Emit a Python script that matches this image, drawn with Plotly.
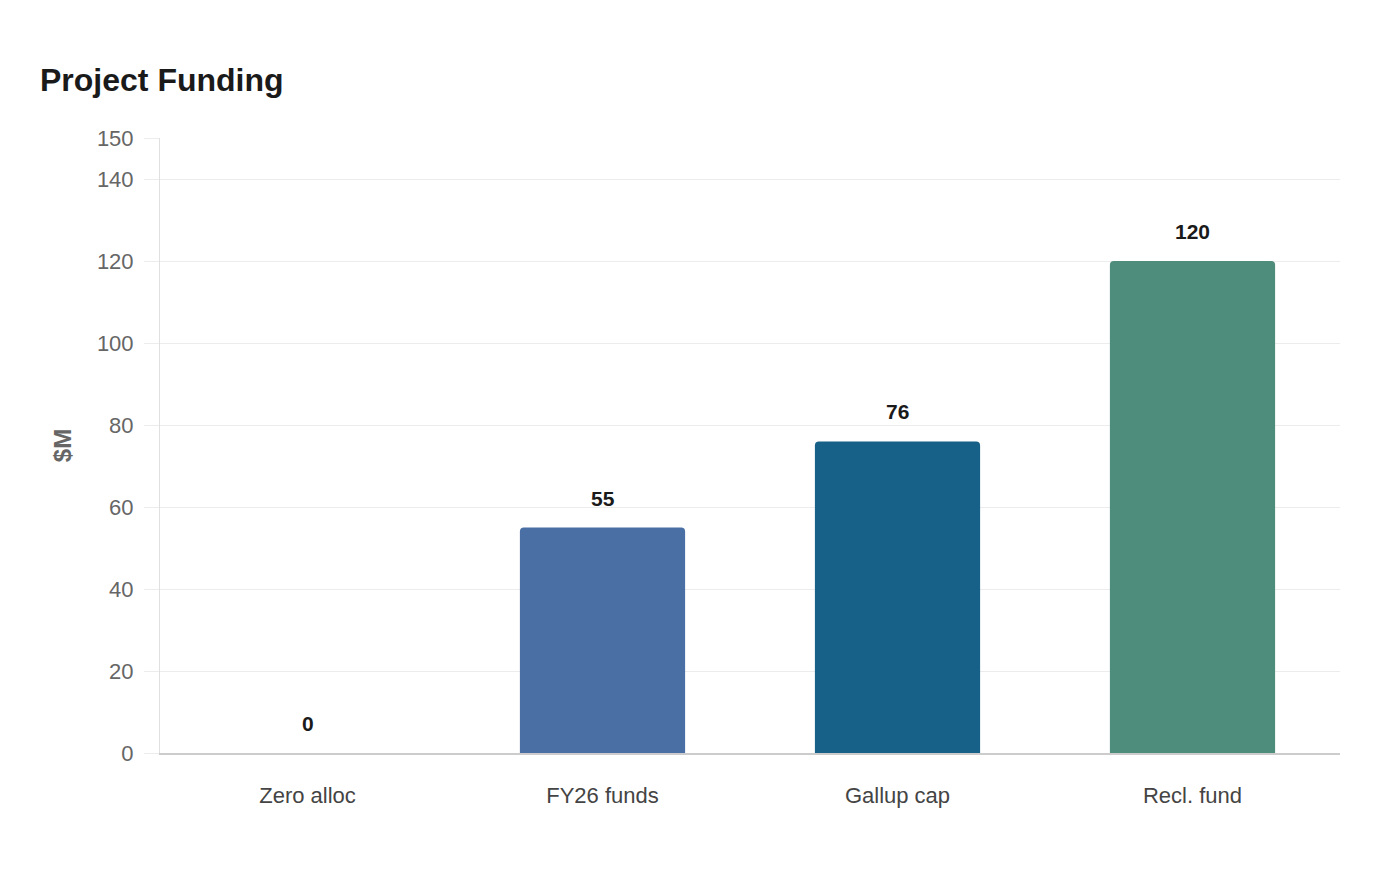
import plotly.graph_objects as go

categories = ["Zero alloc", "FY26 funds", "Gallup cap", "Recl. fund"]
values = [0, 55, 76, 120]
colors = ["#8c8c8c", "#4a6fa5", "#176087", "#4e8d7b"]
y_ticks = [0, 20, 40, 60, 80, 100, 120, 140, 150]

fig = go.Figure()
fig.add_trace(go.Bar(
    x=categories, y=values,
    marker=dict(color=colors, cornerradius=4, line=dict(width=0)),
    width=0.56,
    hoverinfo="skip",
))

for c, v in zip(categories, values):
    fig.add_annotation(
        x=c, y=v, text=f"<b>{v}</b>", showarrow=False,
        yanchor="bottom", yshift=16,
        font=dict(family="Liberation Sans, Arial, sans-serif", size=21, color="#1a1a1a"),
    )

fig.update_layout(
    width=1400, height=880,
    margin=dict(l=160, r=60, t=138, b=127),
    paper_bgcolor="white", plot_bgcolor="white",
    showlegend=False,
    title=dict(
        text="<b>Project Funding</b>",
        x=40 / 1400, xanchor="left", xref="container",
        y=1 - 80 / 880, yanchor="middle", yref="container",
        font=dict(family="Liberation Sans, Arial, sans-serif", size=32, color="#1a1a1a"),
    ),
    font=dict(family="Liberation Sans, Arial, sans-serif"),
)
fig.update_xaxes(
    showline=True, linecolor="#cccccc", linewidth=2,
    showgrid=False, ticks="",
    tickfont=dict(size=22, color="#444444"),
    ticklabelstandoff=22,
)
fig.update_yaxes(
    range=[0, 150], tickvals=y_ticks,
    showgrid=True, gridcolor="#ececec", gridwidth=1,
    showline=True, linecolor="#e0e0e0", linewidth=1,
    ticks="outside", ticklen=15, tickcolor="#ececec",
    tickfont=dict(size=22, color="#666666"),
    ticklabelstandoff=6,
    zeroline=False,
    title=dict(text="<b>$M</b>", font=dict(size=24, color="#666666"), standoff=18),
)

fig.write_html("out.html")
